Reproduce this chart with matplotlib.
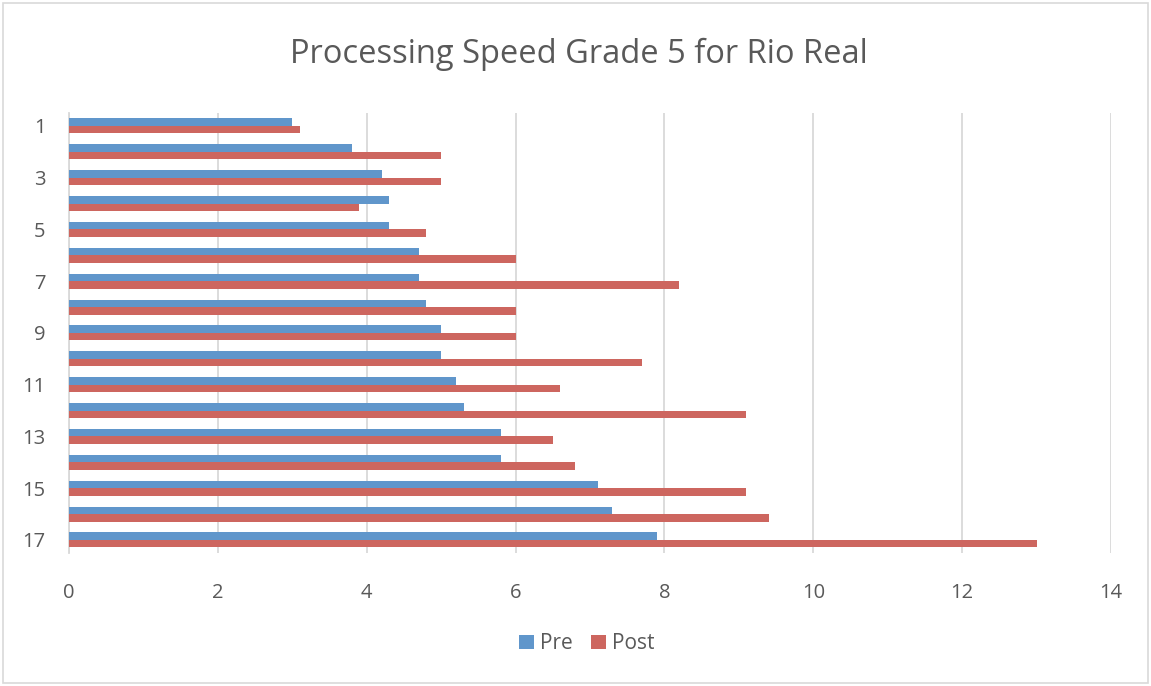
import numpy as np
import matplotlib.pyplot as plt
from matplotlib.patches import Rectangle

# scores per student, pre and post
students = list(range(1, 18))
pre = [3.0, 3.8, 4.2, 4.3, 4.3, 4.7, 4.7, 4.8, 5.0, 5.0, 5.2, 5.3, 5.8, 5.8, 7.1, 7.3, 7.9]
post = [3.1, 5.0, 5.0, 3.9, 4.8, 6.0, 8.2, 6.0, 6.0, 7.7, 6.6, 9.1, 6.5, 6.8, 9.1, 9.4, 13.0]
x_ticks = [0, 2, 4, 6, 8, 10, 12, 14]
y_labels = [str(s) if s % 2 == 1 else "" for s in students]

BLUE = "#6096CB"
RED = "#CD665F"
TEXT = "#595959"
GRID = "#D9D9D9"

plt.rcParams["font.family"] = ["Open Sans", "DejaVu Sans"]

fig = plt.figure(figsize=(11.51, 6.86), dpi=100)
ax = fig.add_axes([0.06, 0.194, 0.9053, 0.6414])

y = np.array(students)
h = 0.29
ax.barh(y - h / 2, pre, height=h, color=BLUE, label="Pre", zorder=3)
ax.barh(y + h / 2, post, height=h, color=RED, label="Post", zorder=3)

ax.set_xlim(0, 14)
ax.set_ylim(17.5, 0.5)
ax.set_xticks(x_ticks)
ax.set_yticks(students)
ax.set_yticklabels(y_labels)
ax.tick_params(axis="both", length=0, labelsize=14.5, colors=TEXT)
ax.tick_params(axis="x", pad=22)
ax.tick_params(axis="y", pad=17)

ax.grid(axis="x", color=GRID, linewidth=1.3, zorder=0)
for side in ["top", "right", "bottom"]:
    ax.spines[side].set_visible(False)
ax.spines["left"].set_color(GRID)
ax.spines["left"].set_linewidth(1.3)

fig.text(0.503, 0.92, "Processing Speed Grade 5 for Rio Real", ha="center", va="center",
         fontsize=23.5, color=TEXT)

ax.legend(loc="center", bbox_to_anchor=(0.497, -0.207), ncol=2, frameon=False,
          fontsize=15, labelcolor=TEXT, handlelength=0.7, handleheight=0.7,
          handletextpad=0.3, columnspacing=0.9)

# light outer border
fig.patches.append(Rectangle((0.003, 0.004), 0.994, 0.991, transform=fig.transFigure,
                             fill=False, edgecolor=GRID, linewidth=1.2))

fig.savefig("out.png", dpi=100)
